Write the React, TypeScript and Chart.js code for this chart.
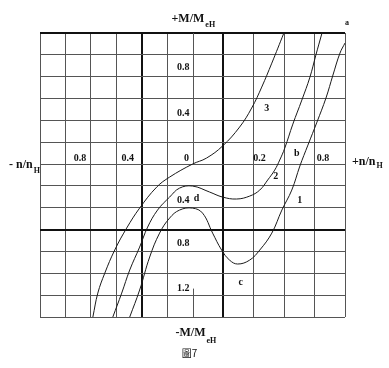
import React, { useEffect, useRef } from 'react';
import { Chart, registerables, LinearScale } from 'chart.js';

// ---------- data ----------
// x: n/nH (left side reaches 1.2, right side 1.0; each half of the plot is drawn with its own unit length)
// y: M/MeH
const curve3X = [-0.784, -0.745, -0.690, -0.612, -0.518, -0.416, -0.282, -0.180, 0.0, 0.092, 0.197, 0.309, 0.388, 0.454, 0.520, 0.599];
const curve3Y = [-1.400, -1.181, -0.998, -0.787, -0.586, -0.403, -0.211, -0.119, 0.0, 0.055, 0.165, 0.339, 0.513, 0.705, 0.924, 1.199];

const curve2X = [-0.627, -0.557, -0.494, -0.416, -0.353, -0.275, -0.180, -0.102, 0.0, 0.112, 0.197, 0.289, 0.375, 0.441, 0.493, 0.539, 0.572, 0.605, 0.658, 0.717, 0.770, 0.809, 0.849];
const curve2Y = [-1.400, -1.181, -0.970, -0.760, -0.577, -0.421, -0.302, -0.220, -0.201, -0.256, -0.302, -0.320, -0.293, -0.238, -0.146, -0.055, 0.037, 0.146, 0.366, 0.586, 0.796, 0.998, 1.199];

const curve1X = [-0.494, -0.416, -0.337, -0.259, -0.180, -0.102, 0.0, 0.066, 0.132, 0.191, 0.243, 0.296, 0.375, 0.441, 0.520, 0.586, 0.651, 0.704, 0.757, 0.816, 0.875, 0.921, 0.967, 1.0];
const curve1Y = [-1.400, -1.153, -0.851, -0.632, -0.494, -0.421, -0.403, -0.449, -0.632, -0.787, -0.879, -0.915, -0.879, -0.787, -0.632, -0.421, -0.238, -0.018, 0.174, 0.384, 0.604, 0.815, 1.016, 1.108];

// axis ranges / grid
const X_MIN = -1.2;
const X_MAX = 1.0;
const Y_MIN = -1.4;
const Y_MAX = 1.2;
const GRID_STEP = 0.2;
const X_HEAVY = [-0.4, 0.2];
const Y_HEAVY = [-0.6, 1.2];
const X_ZERO_GAP = [0, -1.14]; // the x = 0 grid line is interrupted between these y values

// labels on the horizontal axis (placed just above y = 0)
const xNumLabels = ['0.8', '0.4', '0', '0.2', '0.8'];
const xNumValues = [-0.886, -0.51, -0.047, 0.44, 0.855];
const xNumRow = 0.055;
// labels along the vertical axis
const yNumLabels = ['0.8', '0.4', '0.4', '0.8', '1.2'];
const yNumValues = [0.888, 0.467, -0.33, -0.723, -1.135];
const yNumColumn = -0.072;
// curve / point letters
const markTexts = ['3', '2', '1', 'b', 'c', 'd', 'a'];
const markX = [0.487, 0.546, 0.704, 0.684, 0.316, 0.026, 1.013];
const markY = [0.513, -0.11, -0.33, 0.10, -1.08, -0.31, 1.29];

const SERIF = '"Liberation Serif", "Times New Roman", serif';

// ---------- a linear scale with a different unit length on each side of 0 ----------
const SPLIT = 0;
const SPLIT_FRACTION = 0.5;
class SplitLinearScale extends LinearScale {
  static id = 'splitLinear';
  getPixelForValue(value: any) {
    if (value === null || value === undefined || isNaN(value)) return NaN;
    const min = (this as any).min, max = (this as any).max;
    let dec;
    if (value <= SPLIT) dec = ((value - min) / (SPLIT - min)) * SPLIT_FRACTION;
    else dec = SPLIT_FRACTION + ((value - SPLIT) / (max - SPLIT)) * (1 - SPLIT_FRACTION);
    return this.getPixelForDecimal(dec);
  }
  getValueForPixel(pixel: number) {
    const min = (this as any).min, max = (this as any).max;
    const dec = this.getDecimalForPixel(pixel);
    if (dec <= SPLIT_FRACTION) return min + (dec / SPLIT_FRACTION) * (SPLIT - min);
    return SPLIT + ((dec - SPLIT_FRACTION) / (1 - SPLIT_FRACTION)) * (max - SPLIT);
  }
}

Chart.register(...registerables);
Chart.register(SplitLinearScale as any);

const near = (v: number, list: number[]) => list.some((t) => Math.abs(v - t) < 1e-6);

const textPlugin = {
  id: 'textPlugin',
  afterDraw(chart: any) {
    const { ctx, chartArea, scales } = chart;
    const xs = scales.x, ys = scales.y;
    const x0 = xs.getPixelForValue(0);
    const y0 = ys.getPixelForValue(0);
    ctx.save();
    ctx.fillStyle = '#111';

    // number labels
    ctx.font = `bold 10px ${SERIF}`;
    ctx.textAlign = 'center';
    ctx.textBaseline = 'middle';
    xNumLabels.forEach((t, i) => ctx.fillText(t, xs.getPixelForValue(xNumValues[i]), ys.getPixelForValue(xNumRow)));
    yNumLabels.forEach((t, i) => ctx.fillText(t, xs.getPixelForValue(yNumColumn), ys.getPixelForValue(yNumValues[i])));
    markTexts.forEach((t, i) => {
      ctx.font = t === 'a' ? `bold 8px ${SERIF}` : `bold 10px ${SERIF}`;
      ctx.fillText(t, xs.getPixelForValue(markX[i]), ys.getPixelForValue(markY[i]));
    });

    // axis titles with subscripts
    ctx.textAlign = 'left';
    ctx.textBaseline = 'alphabetic';
    const title = (main: string, sub: string, x: number, y: number, dy: number) => {
      ctx.font = `bold 12px ${SERIF}`;
      ctx.fillText(main, x, y);
      const w = ctx.measureText(main).width;
      ctx.font = `bold 8px ${SERIF}`;
      ctx.fillText(sub, x + w + 1, y + dy);
    };
    title('+M/M', 'eH', x0 - 21, chartArea.top - 11, 5);
    title('-M/M', 'eH', x0 - 17, chartArea.bottom + 19, 7);
    title('- n/n', 'H', chartArea.left - 31, y0 + 4, 5);
    title('+n/n', 'H', chartArea.right + 7, y0 + 1, 3);

    ctx.font = `10px "Noto Sans CJK TC", ${SERIF}`;
    ctx.textAlign = 'center';
    ctx.fillText('圖7', x0 - 3, chartArea.bottom + 40);
    ctx.restore();
  },
  beforeDatasetsDraw(chart: any) {
    const { ctx, chartArea, scales } = chart;
    const x = Math.round(scales.x.getPixelForValue(0)) + 0.5;
    ctx.save();
    ctx.strokeStyle = '#555';
    ctx.lineWidth = 1;
    ctx.beginPath();
    ctx.moveTo(x, chartArea.top);
    ctx.lineTo(x, scales.y.getPixelForValue(X_ZERO_GAP[0]));
    ctx.moveTo(x, scales.y.getPixelForValue(X_ZERO_GAP[1]));
    ctx.lineTo(x, chartArea.bottom);
    ctx.stroke();
    ctx.restore();
  },
};

const toPoints = (xs: number[], ys: number[]) => xs.map((x, i) => ({ x, y: ys[i] }));

export default function App() {
  const ref = useRef<HTMLCanvasElement>(null);
  useEffect(() => {
    if (!ref.current) return;
    const lineStyle = {
      borderColor: '#1a1a1a',
      borderWidth: 1,
      pointRadius: 0,
      fill: false,
      tension: 0.4,
    };
    const chart = new Chart(ref.current, {
      type: 'line',
      data: {
        datasets: [
          { label: '1', data: toPoints(curve1X, curve1Y), ...lineStyle },
          { label: '2', data: toPoints(curve2X, curve2Y), ...lineStyle },
          { label: '3', data: toPoints(curve3X, curve3Y), ...lineStyle },
        ],
      },
      options: {
        animation: false,
        responsive: false,
        maintainAspectRatio: false,
        events: [],
        layout: { padding: { left: 40, top: 33, right: 44, bottom: 51 } },
        plugins: { legend: { display: false }, tooltip: { enabled: false } },
        scales: {
          x: {
            type: 'splitLinear' as any,
            min: X_MIN,
            max: X_MAX,
            ticks: { display: false, stepSize: GRID_STEP },
            border: { display: false },
            grid: {
              drawTicks: false,
              color: (c: any) => (Math.abs(c.tick.value) < 1e-6 ? 'rgba(0,0,0,0)' : near(c.tick.value, X_HEAVY) ? '#111' : '#555'),
              lineWidth: (c: any) => (near(c.tick.value, X_HEAVY) ? 2 : 1),
            },
          },
          y: {
            type: 'linear',
            min: Y_MIN,
            max: Y_MAX,
            ticks: { display: false, stepSize: GRID_STEP },
            border: { display: false },
            grid: {
              drawTicks: false,
              color: (c: any) => (near(c.tick.value, Y_HEAVY) ? '#111' : '#555'),
              lineWidth: (c: any) => (near(c.tick.value, Y_HEAVY) ? 2 : 1),
            },
          },
        },
      },
      plugins: [textPlugin],
    });
    return () => chart.destroy();
  }, []);
  return (
    <div style={{ position: 'fixed', left: 0, top: 0, width: 389, height: 368, background: '#fff' }}>
      <canvas ref={ref} width={389} height={368} style={{ width: 389, height: 368, display: 'block' }} />
    </div>
  );
}
